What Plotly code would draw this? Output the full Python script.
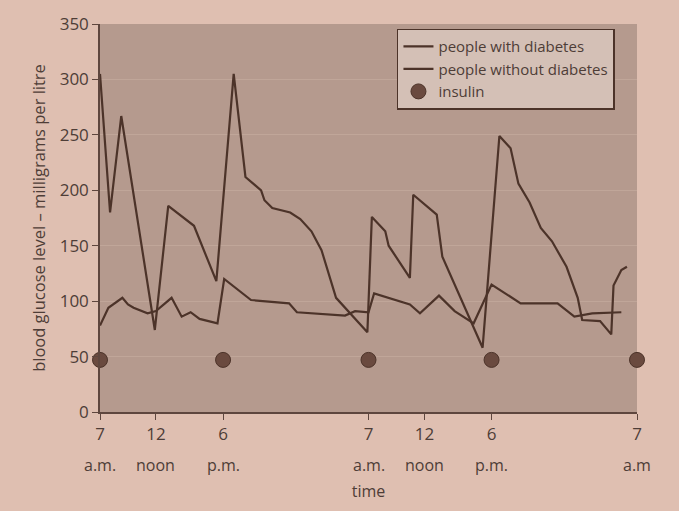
import plotly.graph_objects as go

# hours after 7 a.m. on day one
diab_x = [0, 0.9, 1.9, 4.9, 6.1, 8.4, 10.4, 11.95, 13.0, 14.4, 14.7, 15.4, 17.0, 17.9, 18.9, 19.8, 21.1, 23.9,
          24.3, 25.5, 25.8, 27.7, 28.0, 30.1, 30.6, 34.2, 35.7, 36.7, 37.4, 38.4, 39.4, 40.4, 41.7, 42.7, 43.1,
          44.7, 45.7, 45.9, 46.6, 47.1]
diab_y = [305, 180, 267, 74, 186, 168, 118, 305, 212, 200, 191, 184, 180, 174, 163, 146, 103, 72,
          176, 163, 150, 121, 196, 178, 140, 58, 249, 238, 206, 189, 166, 154, 131, 103, 83,
          82, 70, 114, 128, 131]

nodiab_x = [0, 0.75, 2.0, 2.5, 3.0, 4.25, 5.0, 6.4, 7.3, 8.1, 8.9, 10.5, 11.1, 13.5, 16.9, 17.6, 21.9, 22.8,
            24.0, 24.5, 27.7, 28.6, 30.3, 31.7, 33.4, 35.0, 37.6, 40.9, 42.4, 44.0, 46.6]
nodiab_y = [78, 94, 103, 97, 94, 89, 91, 103, 86, 90, 84, 80, 120, 101, 98, 90, 87, 91,
            90, 107, 97, 89, 105, 91, 80, 115, 98, 98, 86, 89, 90]

insulin_x = [0, 11, 24, 35, 48]
insulin_y = [47, 47, 47, 47, 47]

tick_hours = [0, 5, 11, 24, 29, 35, 48]
tick_top = ["7", "12", "6", "7", "12", "6", "7"]
tick_bottom = ["a.m.", "noon", "p.m.", "a.m.", "noon", "p.m.", "a.m"]
y_ticks = [0, 50, 100, 150, 200, 250, 300, 350]

line_col = "#4c3329"
axis_col = "#5e463e"
text_col = "#4e3d37"
font_family = "Open Sans, Lato, sans-serif"

fig = go.Figure()
fig.add_trace(go.Scatter(x=diab_x, y=diab_y, mode="lines", name="people with diabetes",
                         line=dict(color=line_col, width=2.2)))
fig.add_trace(go.Scatter(x=nodiab_x, y=nodiab_y, mode="lines", name="people without diabetes",
                         line=dict(color=line_col, width=2.2)))
fig.add_trace(go.Scatter(x=insulin_x, y=insulin_y, mode="markers", name="insulin",
                         marker=dict(color="#6a4a3f", size=15, line=dict(color="#4c3329", width=1)),
                         cliponaxis=False))

for hx, lab in zip(tick_hours, tick_bottom):
    fig.add_annotation(x=hx, y=0, xref="x", yref="paper", text=lab, showarrow=False,
                       yanchor="top", yshift=-40, font=dict(size=16, color=text_col, family=font_family))

fig.update_layout(
    width=679, height=511,
    margin=dict(l=100, r=42, t=13, b=99),
    paper_bgcolor="#dfbfb1",
    plot_bgcolor="#b59a8e",
    font=dict(family=font_family, color=text_col, size=16),
    showlegend=True,
    legend=dict(x=0.553, y=0.988, xanchor="left", yanchor="top",
                bgcolor="#d4c0b6", bordercolor="#4c3329", borderwidth=1.5,
                font=dict(size=15, color=text_col), itemwidth=30,
                tracegroupgap=0),
    xaxis=dict(range=[0, 48], tickmode="array", tickvals=tick_hours, ticktext=tick_top,
               showgrid=False, zeroline=False, showline=True, linecolor=axis_col, linewidth=1.5,
               ticks="outside", ticklen=6, tickcolor=axis_col, tickfont=dict(size=17),
               title=dict(text="time", standoff=42, font=dict(size=16))),
    yaxis=dict(range=[0, 350], tickmode="array", tickvals=y_ticks,
               showgrid=True, gridcolor="#c0a699", gridwidth=1, zeroline=False,
               showline=True, linecolor=axis_col, linewidth=1.5,
               ticks="outside", ticklen=6, tickcolor=axis_col, tickfont=dict(size=17),
               title=dict(text="blood glucose level – milligrams per litre", standoff=10,
                          font=dict(size=16.5))),
)

fig.write_html("out.html")
